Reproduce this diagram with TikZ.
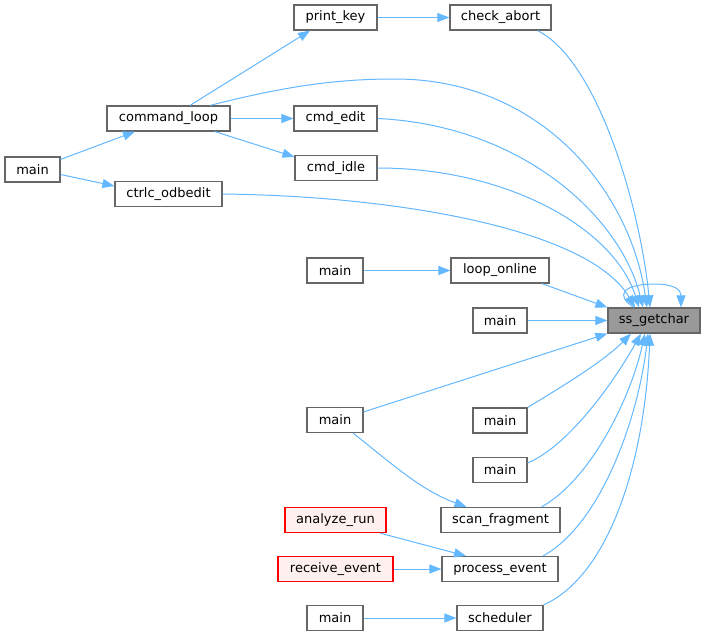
\documentclass[tikz,border=0pt]{standalone}
\usepackage{fontspec}
\setmainfont{DejaVu Sans}
\usetikzlibrary{arrows.meta,calc}
\definecolor{edgec}{HTML}{63B8FF}
\definecolor{boxc}{HTML}{666666}
\definecolor{redfill}{HTML}{FFF0F0}
\definecolor{grayfill}{HTML}{999999}
\begin{document}
\begin{tikzpicture}[x=0.75pt,y=-0.75pt,
  box/.style={draw=boxc,fill=white,line width=0.9pt,minimum height=18.75pt,inner sep=0pt,
    font=\fontsize{9.75pt}{12pt}\selectfont},
  wd/.style={minimum width=#1*0.75pt},
  redbox/.style={box,draw=red,fill=redfill},
  graybox/.style={box,fill=grayfill},
  edge/.style={draw=edgec,line width=0.75pt,-{Triangle[length=9pt,width=6.75pt,fill=edgec]}}]
\useasboundingbox (0,0) rectangle (705,637);
\fill[white] (0,0) rectangle (705,637);
% nodes
\node[box,wd=83] (printkey) at (335.5,17.5) {print\_key};
\node[box,wd=101] (checkabort) at (500.5,17.5) {check\_abort};
\node[box,wd=123] (cmdloop) at (168.5,118.5) {command\_loop};
\node[box,wd=83] (cmdedit) at (335.5,118.5) {cmd\_edit};
\node[box,wd=82] (cmdidle) at (336,168) {cmd\_idle};
\node[box,wd=55] (mainA) at (32.5,169.5) {main};
\node[box,wd=107] (ctrlc) at (168.5,194) {ctrlc\_odbedit};
\node[box,wd=56] (mainB) at (335,270.5) {main};
\node[box,wd=98] (looponline) at (500,270.5) {loop\_online};
\node[graybox,wd=92] (ss) at (654,320.5) {ss\_getchar};
\node[box,wd=54] (mainC) at (500,320.5) {main};
\node[box,wd=56] (mainD) at (335,420) {main};
\node[box,wd=54] (mainE) at (500,420.5) {main};
\node[box,wd=54] (mainF) at (500,470) {main};
\node[box,wd=119] (scanfrag) at (500.5,520) {scan\_fragment};
\node[redbox,wd=101] (analyze) at (335.5,520) {analyze\_run};
\node[redbox,wd=115] (receive) at (335.5,569) {receive\_event};
\node[box,wd=116] (process) at (500,569) {process\_event};
\node[box,wd=56] (mainG) at (335,618) {main};
\node[box,wd=86] (scheduler) at (500,618) {scheduler};
% simple edges
\draw[edge] (printkey.east) -- (checkabort.west);
\draw[edge] ($(cmdloop.north)+(21.5,0)$) -- ($(printkey.south)+(-25.5,0)$);
\draw[edge] (cmdloop.east) -- (cmdedit.west);
\draw[edge] ($(cmdloop.south)+(46.5,0)$) -- ($(cmdidle.north west)+(0,2)$);
\draw[edge] ($(mainA.north east)+(0,3)$) -- ($(cmdloop.south)+(-33.5,0)$);
\draw[edge] ($(mainA.east)+(0,5)$) -- ($(ctrlc.west)+(0,-8)$);
\draw[edge] (mainB.east) -- (looponline.west);
\draw[edge] ($(mainD.south)+(18,0)$) .. controls (390,462) and (420,490) .. ($(scanfrag.north)+(-34,0)$);
\draw[edge] ($(analyze.south)+(44.5,0)$) -- ($(process.north)+(-34,0)$);
\draw[edge] (receive.east) -- (process.west);
\draw[edge] (mainG.east) -- (scheduler.west);
% edges into ss_getchar (top)
\draw[edge] ($(checkabort.south)+(37,0)$) .. controls (597,60) and (640,205) .. ($(ss.north)+(-4,0)$);
\draw[edge] ($(cmdloop.north)+(41.5,0)$) .. controls (290,85) and (340,79) .. (395,79)
   .. controls (540,79) and (630,190) .. ($(ss.north)+(-7,0)$);
\draw[edge] (cmdedit.east) .. controls (520,125) and (620,215) .. ($(ss.north)+(-11,0)$);
\draw[edge] (cmdidle.east) .. controls (510,168) and (615,230) .. ($(ss.north)+(-15,0)$);
\draw[edge] (ctrlc.east) .. controls (400,196) and (590,230) .. ($(ss.north)+(-19,0)$);
\draw[edge] ($(looponline.south)+(42,0)$) -- (ss.north west);
\draw[edge] (mainC.east) -- (ss.west);
% self loop
\draw[edge] ($(ss.north)+(-20,0)$) .. controls (614,295) and (624,284) .. (654,284)
   .. controls (675,284) and (681,290) .. ($(ss.north)+(27,0)$);
% edges into ss_getchar (bottom)
\draw[edge] ($(mainD.north east)+(0,5)$) -- (ss.south west);
\draw[edge] (mainE.north east) .. controls (565,385) and (605,360) .. ($(ss.south)+(-23,0)$);
\draw[edge] ($(mainF.east)+(0,-7)$) .. controls (570,445) and (615,380) .. ($(ss.south)+(-13,0)$);
\draw[edge] ($(scanfrag.north)+(41,0)$) .. controls (590,480) and (630,400) .. ($(ss.south)+(-9,0)$);
\draw[edge] ($(process.north)+(43,0)$) .. controls (600,525) and (638,420) .. ($(ss.south)+(-6,0)$);
\draw[edge] (scheduler.north east) .. controls (610,575) and (645,460) .. ($(ss.south)+(-4,0)$);
\end{tikzpicture}
\end{document}
